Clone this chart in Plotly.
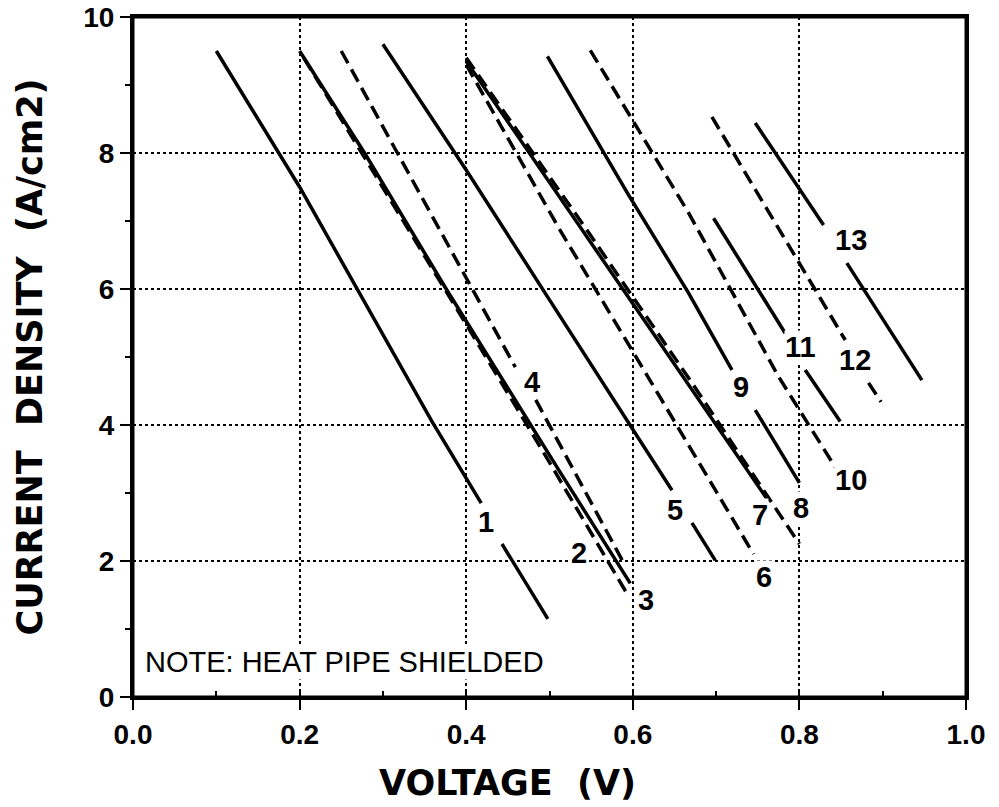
import plotly.graph_objects as go

# courbes tension / densité de courant (None = coupure pour le numéro)
v1 = [0.10, 0.20, 0.359, 0.418, None, 0.443, 0.498]
i1 = [9.50, 7.50, 4.05, 2.85, None, 2.25, 1.15]
v2 = [0.20, 0.278, 0.376, 0.511, 0.597]
i2 = [9.50, 8.00, 6.00, 3.34, 1.67]
v3 = [0.205, 0.30, 0.40, 0.50, 0.593]
i3 = [9.40, 7.50, 5.48, 3.45, 1.52]
v4 = [0.25, 0.459, None, 0.4835, 0.59]
i4 = [9.50, 4.85, None, 4.37, 1.95]
v5 = [0.30, 0.40, 0.50, 0.595, 0.647, None, 0.671, 0.699]
i5 = [9.60, 7.75, 5.84, 4.03, 3.04, None, 2.56, 2.01]
v6 = [0.40, 0.511, 0.601, 0.745]
i6 = [9.30, 6.90, 5.06, 2.10]
v7 = [0.40, 0.531, 0.663, 0.763]
i7 = [9.35, 7.02, 4.66, 2.88]
v8 = [0.40, 0.543, 0.671, 0.80]
i8 = [9.40, 6.90, 4.62, 2.25]
v9 = [0.4975, 0.595, 0.667, 0.719, None, 0.747, 0.80]
i9 = [9.42, 7.38, 5.94, 4.81, None, 4.22, 3.15]
v10 = [0.549, 0.667, 0.775, 0.843]
i10 = [9.51, 7.12, 4.71, 3.38]
v11 = [0.697, 0.783, None, 0.807, 0.849]
i11 = [7.04, 5.35, None, 4.81, 4.05]
v12 = [0.695, 0.855, None, 0.883, 0.898]
i12 = [8.53, 5.25, None, 4.62, 4.34]
v13 = [0.747, 0.829, None, 0.857, 0.947]
i13 = [8.44, 6.94, None, 6.38, 4.66]

# numéros des courbes
label_text = ["1", "2", "3", "4", "5", "6", "7", "8", "9", "10", "11", "12", "13"]
label_v = [0.424, 0.535, 0.616, 0.479, 0.651, 0.757, 0.753, 0.802, 0.730, 0.862, 0.801, 0.867, 0.862]
label_i = [2.57, 2.12, 1.43, 4.63, 2.75, 1.76, 2.68, 2.78, 4.56, 3.19, 5.15, 4.96, 6.72]

curves = [(v1, i1), (v2, i2), (v3, i3), (v4, i4), (v5, i5), (v6, i6), (v7, i7),
          (v8, i8), (v9, i9), (v10, i10), (v11, i11), (v12, i12), (v13, i13)]
dashed = {3, 4, 6, 8, 10, 12}

fig = go.Figure()
for n, (v, i) in enumerate(curves, start=1):
    fig.add_trace(go.Scatter(
        x=v, y=i, mode="lines", showlegend=False,
        line=dict(color="black", width=3.5,
                  dash="14px,7px" if n in dashed else "solid"),
    ))

for t, v, i in zip(label_text, label_v, label_i):
    fig.add_annotation(x=v, y=i, text=t, showarrow=False, bgcolor="white",
                       font=dict(family="Liberation Sans", size=29, color="black",
                                 weight="bold"),
                       borderpad=0)

fig.add_annotation(x=0.012, y=0.51, xanchor="left", text="NOTE: HEAT PIPE SHIELDED",
                   showarrow=False, bgcolor="white", borderpad=1,
                   font=dict(family="Liberation Sans", size=29, color="black"))

# titre de l'axe x (un peu à gauche du centre, comme sur l'original)
fig.add_annotation(x=0.45, y=0, xref="paper", yref="paper", yanchor="middle",
                   yshift=-86, showarrow=False, text="<b>VOLTAGE  (V)</b>",
                   font=dict(family="DejaVu Sans", size=35, color="black"))

# cadre du graphique
fig.add_shape(type="rect", xref="x domain", yref="y domain", x0=0, x1=1, y0=0, y1=1,
              line=dict(color="black", width=3), layer="above")

axis_common = dict(
    showline=True, linecolor="black", linewidth=3, mirror=True, automargin=False,
    showgrid=True, gridcolor="black", gridwidth=2, griddash="dot",
    zeroline=False, tickcolor="black", tickwidth=2, ticklen=10, ticks="outside",
    ticklabeloverflow="allow",
    tickfont=dict(family="Liberation Sans", size=28, color="black", weight="bold"),
)

fig.update_xaxes(
    range=[0, 1], dtick=0.2, tickformat=".1f", **axis_common,
    minor=dict(dtick=0.1, ticks="inside", ticklen=6, tickcolor="black", tickwidth=2, showgrid=False),
)
fig.update_yaxes(
    range=[0, 10], dtick=2, **axis_common,
    minor=dict(dtick=1, ticks="outside", ticklen=5, tickcolor="black", tickwidth=2, showgrid=False),
    title=dict(text="<b>CURRENT  DENSITY  (A/cm2)</b>", standoff=30,
               font=dict(family="DejaVu Sans", size=35, color="black")),
)

fig.update_layout(
    width=999, height=807,
    margin=dict(l=133, r=33, t=17, b=110),
    plot_bgcolor="white", paper_bgcolor="white",
)

# pas de marge autour de la page : la figure occupe toute la fenêtre
fig.write_html("out.html", config={"displayModeBar": False},
               post_script="document.body.style.margin = '0px';")
